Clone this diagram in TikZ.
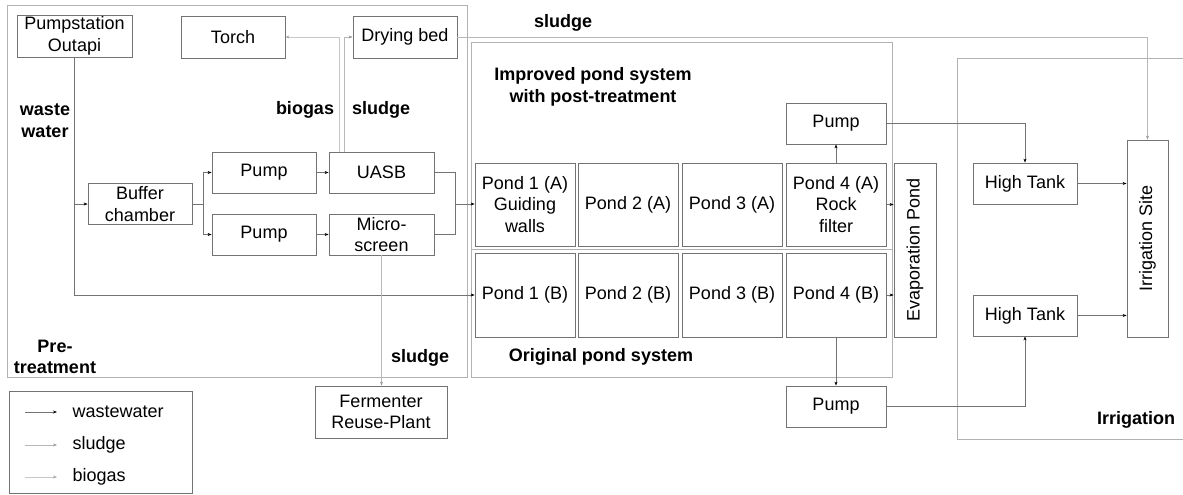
\documentclass[tikz,border=0pt]{standalone}
\usepackage{fontspec}
\setmainfont{Liberation Sans}
\usetikzlibrary{arrows.meta}

\begin{document}
\begin{tikzpicture}[x=1pt, y=-1pt, font=\fontsize{18}{21.6}\selectfont,
   box/.style={draw=black!55, line width=0.8pt, align=center, inner sep=0pt, minimum width=104pt, minimum height=41pt},
   pondnode/.style={box, minimum width=100pt, minimum height=83pt},
   frame/.style={draw=black!30, line width=0.8pt},
   ww/.style={draw=black!55, line width=0.6pt, -{Stealth[length=4pt, width=3pt, black]}},
   sl/.style={draw=black!28, line width=0.6pt, -{Stealth[length=4pt, width=3pt, black!40]}},
   bg/.style={draw=black!22, line width=0.6pt, -{Stealth[length=4pt, width=3pt, black!35]}},
   lbl/.style={font={\fontsize{18}{21.6}\selectfont\bfseries}, align=center}]
   \useasboundingbox (0,0) rectangle (1183,495);
   	\draw[frame] (7,5) rectangle (467,377);
   	\draw[frame] (471,42) rectangle (892,377);
   	\draw[frame] (471,249) -- (892,249);
   	\draw[frame] (1183,58) -| (957,439) -- (1183,439);
   	\node[box, minimum width=115pt, minimum height=42pt] (pumpst) at (74.5,36) {Pumpstation\\Outapi};
   	\node[box, minimum height=42pt] (torch) at (233,37) {Torch};
   	\node[box, minimum height=42pt] (dry) at (405,37) {Drying bed};
   	\node[box] (buffer) at (140,204) {Buffer\\chamber};
   	\node[box] (pump1) at (264,172.5) {Pump};
   	\node[box] (pump2) at (264,234.5) {Pump};
   	\node[box, minimum width=105pt] (uasb) at (381.5,172.5) {UASB};
   	\node[box, minimum width=105pt] (micro) at (381.5,234.5) {Micro-\\screen};
   	\node[box, minimum width=132pt, minimum height=52pt] (ferm) at (381,412) {Fermenter\\Reuse-Plant};
   	\foreach \x/\txt [count=\ni] in {525/{Pond 1 (A)\\Guiding\\walls}, 628/{Pond 2 (A)}, 732/{Pond 3 (A)}, 836/{Pond 4 (A)\\Rock\\filter}}
       		\node[pondnode] (pa\ni) at (\x,204.5) {\txt};
   	\foreach \x [count=\ni] in {525,628,732,836}
       		\node[pondnode, minimum height=84pt] (pb\ni) at (\x,295) {Pond \ni{} (B)};
   	\node[box, minimum width=100pt] (pumpA) at (836,123.5) {Pump};
   	\node[box, minimum width=100pt] (pumpB) at (836,406.5) {Pump};
   	\node[box, minimum width=42pt, minimum height=174pt] (evap) at (915,250) {\rotatebox{90}{Evaporation Pond}};
   	\node[box] (ht1) at (1025,183.5) {High Tank};
   	\node[box] (ht2) at (1025,315.5) {High Tank};
   	\node[box, minimum width=41pt, minimum height=197pt] (irr) at (1147.5,238.5) {\rotatebox{90}{Irrigation Site}};
   	\coordinate (wwsplit) at (pumpst.south |- buffer.west);
   	\coordinate (bsplit) at (203,204);
   	\coordinate (umerge) at (455,204);
        	   	\draw[ww] (pumpst.south) |- (pb1.west);
            	\draw[ww] (wwsplit) -- (buffer.west);
            	\draw[ww] (buffer.east) -- (bsplit) |- (pump1.west);
            	\draw[ww] (bsplit) |- (pump2.west);
            	\draw[ww] (pump1) -- (uasb);
            	\draw[ww] (pump2) -- (micro);
            	\draw[ww, -] (uasb.east) -| (umerge);
            	\draw[ww, -] (micro.east) -| (umerge);
            	\draw[ww] (umerge) -- (umerge -| pa1.west);
            	\draw[bg] ([xshift=-42.5pt]uasb.north) |- (torch.east);
            	\draw[sl] ([xshift=-37.5pt]uasb.north) |- (dry.west);
            	\draw[sl] (dry.east) -| (irr.north);
            	\draw[sl] (micro.south) -- (micro.south |- ferm.north);
            	\draw[ww] (pa4) -- (pumpA);
            	\draw[ww] (pumpA.east) -| (ht1.north);
            	\draw[ww] (pa4.east) -- (pa4.east -| evap.west);
            	\draw[ww] (pb4.east) -- (pb4.east -| evap.west);
            	\draw[ww] (pb4) -- (pumpB);
            	\draw[ww] (pumpB.east) -| (ht2.south);
            	\draw[ww] (ht1.east) -- (ht1.east -| irr.west);
            	\draw[ww] (ht2.east) -- (ht2.east -| irr.west);
   	\node[lbl] (wwlbl) at (45,121) {waste\\water};
   	\node[lbl] (biolbl) at (305,110) {biogas};
   	\node[lbl] (sllbl) at (381,110) {sludge};
   	\node[lbl] (sltop) at (563,23) {sludge};
   	\node[lbl] (implbl) at (593,87) {Improved pond system\\with post-treatment};
   	\node[lbl] (origlbl) at (601,357) {Original pond system};
   	\node[lbl] (prelbl) at (55,357) {Pre-\\treatment};
   	\node[lbl] (slbot) at (420,358) {sludge};
   	\node[lbl] (irrlbl) at (1136,420) {Irrigation};
   	\node[box, minimum width=183pt, minimum height=102pt] (legend) at (100.5,442) {};
   	\foreach \y/\s/\t [count=\ni] in {412/ww/wastewater, 445/sl/sludge, 477/bg/biogas} {
       		\coordinate (la\ni) at (25,\y);
       		\coordinate (lb\ni) at (57,\y);
       		\draw[\s] (la\ni) -- (lb\ni);
       		\node[anchor=west] (leg\ni) at (69,\y) {\t};
   	}
\end{tikzpicture}
\end{document}
